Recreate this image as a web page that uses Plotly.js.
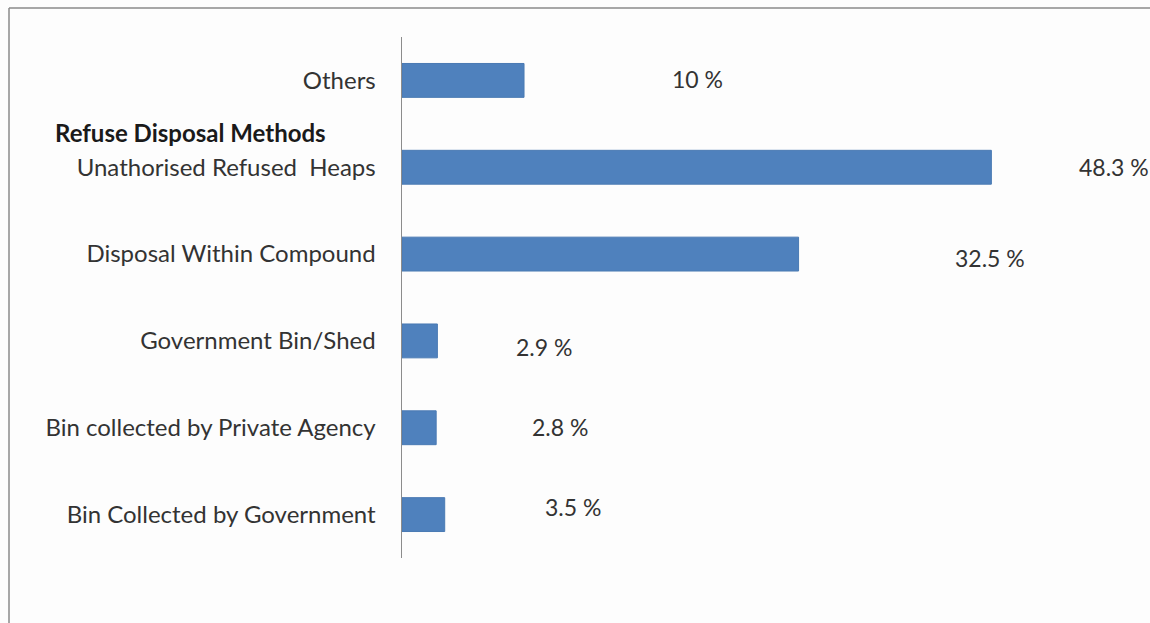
<!DOCTYPE html>
<html>
<head>
<meta charset="utf-8">
<script src="https://cdn.plot.ly/plotly-3.0.1.min.js"></script>
<style>
html,body{margin:0;padding:0;background:#fdfdfd;}
#chart{width:1150px;height:623px;}
</style>
</head>
<body>
<div id="chart"></div>
<script>
// Data (bottom to top, as drawn)
const categories = [
  "Bin Collected by Government",
  "Bin collected by Private Agency",
  "Government Bin/Shed",
  "Disposal Within Compound",
  "Unathorised Refused  Heaps",
  "Others"
];
const values = [3.5, 2.8, 2.9, 32.5, 48.3, 10];
const valueLabels = ["3.5 %", "2.8 %", "2.9 %", "32.5 %", "48.3 %", "10 %"];
const axisTitle = "Refuse Disposal Methods";

// label placement (style): pixel shifts from bar end
const labelXShift = [98, 94, 77, 154, 86, 146];
const labelYShift = [8, 1, -6, -4, 0, 1];

const FONT = "Lato, 'Open Sans', sans-serif";

const trace = {
  type: "bar",
  orientation: "h",
  y: categories,
  x: values,
  width: 0.39,
  marker: {color: "#4f81bd", line: {color: "#4a7ab3", width: 1}},
  hoverinfo: "none"
};

const annotations = values.map((v, i) => ({
  x: v, y: categories[i], xref: "x", yref: "y",
  text: valueLabels[i], showarrow: false,
  xanchor: "left", yanchor: "middle",
  xshift: labelXShift[i], yshift: labelYShift[i],
  font: {family: FONT, size: 23, color: "#333333"}
}));
annotations.push({
  xref: "paper", yref: "paper", x: -0.466, y: 0.816,
  xanchor: "left", yanchor: "middle", showarrow: false,
  text: "<b>" + axisTitle + "</b>",
  font: {family: FONT, size: 24, color: "#1a1a1a"}
});

const layout = {
  width: 1150, height: 623,
  margin: {l: 402, r: 0, t: 37, b: 65, pad: 0},
  paper_bgcolor: "#fdfdfd",
  plot_bgcolor: "#fdfdfd",
  showlegend: false,
  xaxis: {range: [0, 61.3], visible: false, fixedrange: true},
  yaxis: {
    showline: true, linecolor: "#8c8c8c", linewidth: 1.5,
    showgrid: false, zeroline: false,
    ticks: "outside", ticklen: 20, tickcolor: "rgba(0,0,0,0)",
    tickfont: {family: FONT, size: 24, color: "#333333"},
    range: [-0.5, 5.5], fixedrange: true
  },
  annotations: annotations,
  shapes: [
    {type: "line", xref: "paper", yref: "paper", x0: -0.5254, x1: 1.1, y0: 1.0557, y1: 1.0557,
     line: {color: "#8a8a8a", width: 1.5}},
    {type: "line", xref: "paper", yref: "paper", x0: -0.5254, x1: -0.5254, y0: -0.2, y1: 1.0557,
     line: {color: "#8a8a8a", width: 1.5}}
  ]
};

Plotly.newPlot("chart", [trace], layout, {displayModeBar: false, staticPlot: true});
</script>
</body>
</html>
